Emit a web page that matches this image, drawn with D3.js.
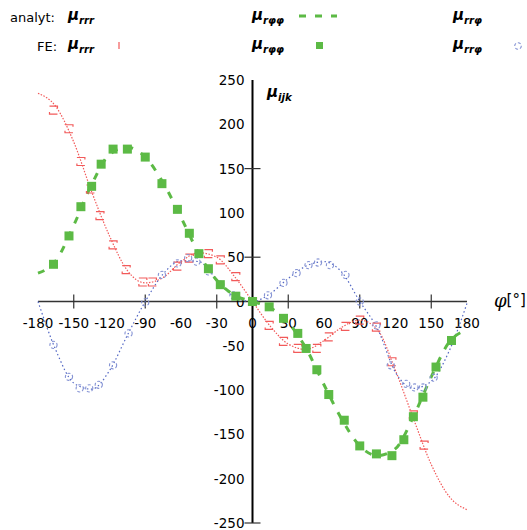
<!DOCTYPE html>
<html>
<head>
<meta charset="utf-8">
<script src="https://cdn.jsdelivr.net/npm/d3@7"></script>
<style>
  body { margin: 0; background: #fff; }
  svg text { font-family: "DejaVu Sans", sans-serif; }
</style>
</head>
<body>
<div id="chart"></div>
<script>
// angle ticks / labels
const xTickLabels = [-180, -150, -120, -90, -60, -30, 0, 30, 60, 90, 120, 150, 180];
const xTickMarks = [-150, -90, -30, 30, 90, 150];
const yTickLabels = [250, 200, 150, 100, 50, 0, -50, -100, -150, -200, -250];
const yTickMarks = [150, 50, -250];

// analytic curves [phi, value]
const anRrr = [[-180, 235], [-165, 220], [-150, 180], [-135, 124], [-120, 74], [-105, 35], [-90, 21], [-75, 27],
  [-60, 45], [-45, 55], [-30, 50], [-15, 28], [0, 0], [15, -28], [30, -48], [45, -54], [60, -44], [75, -29],
  [90, -21], [105, -32], [120, -78], [135, -132], [150, -184], [165, -220], [180, -235]];
const anRpp = [[-180, 32], [-165, 46], [-150, 86], [-135, 132], [-120, 166], [-105, 174], [-90, 163], [-75, 134],
  [-60, 95], [-45, 54], [-30, 24], [-15, 7], [0, 0], [15, -7], [30, -24], [45, -53], [60, -94], [75, -133],
  [90, -163], [105, -174], [120, -166], [135, -130], [150, -85], [165, -46], [180, -32]];
const anRrp = [[-180, 0], [-165, -55], [-150, -92], [-135, -99], [-120, -78], [-105, -38], [-90, 0], [-75, 31],
  [-60, 46], [-45, 45], [-30, 25], [-15, 5], [0, 0], [15, 9], [30, 26], [45, 40], [60, 45], [75, 33],
  [90, 0], [105, -31], [120, -80], [135, -98], [150, -90], [165, -56], [180, -2]];

// finite element results [phi, value]
const feRrr = [[-167, 216], [-154, 195], [-144, 158], [-136, 127], [-128, 97], [-117, 64], [-106, 36], [-92, 22],
  [-84, 22], [-63, 40], [-53, 49], [-37, 54], [-27, 47], [-14, 28], [0, 0], [14, -27], [26, -45], [38, -53],
  [54, -53], [64, -40], [78, -28], [90, -21], [104, -29], [117, -68], [135, -128], [144, -162]];
const feRpp = [[-167, 42], [-154, 74], [-144, 107], [-135, 130], [-127, 155], [-117, 172], [-105, 172], [-90, 163],
  [-76, 133], [-63, 104], [-53, 77], [-45, 54], [-37, 37], [-27, 19], [-14, 6], [0, 0], [14, -6], [26, -19],
  [38, -36], [45, -53], [54, -77], [64, -105], [77, -134], [90, -163], [104, -172], [117, -174], [127, -156],
  [135, -130], [143, -108], [154, -74], [167, -44]];
const feRrp = [[-167, -49], [-154, -85], [-145, -98], [-137, -98], [-129, -94], [-117, -72], [-104, -36], [-90, -1],
  [-76, 30], [-63, 43], [-54, 49], [-47, 45], [-37, 34], [-27, 19], [-16, 7], [0, 0], [13, 7], [26, 21],
  [37, 32], [47, 41], [55, 44], [65, 41], [78, 30], [90, 0], [104, -27], [116, -72], [129, -93], [136, -97],
  [143, -97], [152, -86]];

const red = '#f25a5a', green = '#5cba45', blue = '#5468c4', blueLight = '#8593d4';

const width = 527, height = 530;
const svg = d3.select('#chart').append('svg')
  .attr('width', width)
  .attr('height', height);

const x = d3.scaleLinear().domain([-180, 180]).range([38, 467]);
const y = d3.scaleLinear().domain([-250, 250]).range([523, 80]);

// axes
svg.append('line')
  .attr('x1', x(-180)).attr('x2', x(180))
  .attr('y1', y(0)).attr('y2', y(0))
  .attr('stroke', '#333').attr('stroke-width', 1.3);
svg.append('line')
  .attr('x1', x(0)).attr('x2', x(0))
  .attr('y1', y(250)).attr('y2', y(-250))
  .attr('stroke', '#000').attr('stroke-width', 2);

svg.selectAll('.xtick')
  .data(xTickMarks)
  .enter().append('line')
  .attr('x1', d => x(d)).attr('x2', d => x(d))
  .attr('y1', y(0) - 7).attr('y2', y(0) + 7)
  .attr('stroke', '#333').attr('stroke-width', 1.2);

svg.selectAll('.ytick')
  .data(yTickMarks)
  .enter().append('line')
  .attr('x1', x(0) - 8).attr('x2', x(0) + 8)
  .attr('y1', d => y(d)).attr('y2', d => y(d))
  .attr('stroke', '#333').attr('stroke-width', 1.2);

svg.selectAll('.xlab')
  .data(xTickLabels)
  .enter().append('text')
  .attr('x', d => x(d))
  .attr('y', y(0) + 26)
  .attr('text-anchor', 'middle')
  .attr('font-size', 13.5)
  .text(d => d < 0 ? '-' + Math.abs(d) : d);

svg.selectAll('.ylab')
  .data(yTickLabels)
  .enter().append('text')
  .attr('x', x(0) - 8)
  .attr('y', d => y(d) + 5)
  .attr('text-anchor', 'end')
  .attr('font-size', 13.5)
  .text(d => d < 0 ? '-' + Math.abs(d) : d);

// axis titles
function mu(g, xx, yy, sub, size) {
  const t = g.append('text')
    .attr('x', xx).attr('y', yy)
    .attr('font-family', '"DejaVu Serif", serif')
    .attr('font-style', 'italic')
    .attr('font-weight', 'bold')
    .attr('font-size', size);
  t.append('tspan').text('μ');
  t.append('tspan').attr('dy', 4).attr('font-size', size * 0.68).text(sub);
  return t;
}
mu(svg, 267, 97, 'ijk', 15);

const phiLab = svg.append('text').attr('x', 494).attr('y', 307).attr('font-size', 18);
phiLab.append('tspan').attr('font-family', '"DejaVu Serif", serif').attr('font-style', 'italic').text('φ');
phiLab.append('tspan').attr('font-size', 15).attr('dy', -2).text('[°]');

// analytic lines
const line = d3.line()
  .x(d => x(d[0]))
  .y(d => y(d[1]))
  .curve(d3.curveMonotoneX);

svg.append('path').datum(anRrr)
  .attr('fill', 'none').attr('stroke', red).attr('stroke-width', 1.2)
  .attr('stroke-dasharray', '1.5,1.5').attr('d', line);
svg.append('path').datum(anRrp)
  .attr('fill', 'none').attr('stroke', blue).attr('stroke-width', 1.2)
  .attr('stroke-dasharray', '1.5,2.5').attr('d', line);
svg.append('path').datum(anRpp)
  .attr('fill', 'none').attr('stroke', green).attr('stroke-width', 3)
  .attr('stroke-dasharray', '7,9').attr('d', line);

// FE markers
const sq = 8;
svg.selectAll('.fe-rrr')
  .data(feRrr)
  .enter().append('rect')
  .attr('x', d => x(d[0]) - sq / 2).attr('y', d => y(d[1]) - sq / 2)
  .attr('width', sq).attr('height', sq)
  .attr('fill', 'none').attr('stroke', red).attr('stroke-width', 1.2)
  .attr('stroke-dasharray', '10,6');

svg.selectAll('.fe-rrp')
  .data(feRrp)
  .enter().append('circle')
  .attr('cx', d => x(d[0])).attr('cy', d => y(d[1]))
  .attr('r', 3.6)
  .attr('fill', 'none').attr('stroke', blueLight).attr('stroke-width', 1.1)
  .attr('stroke-dasharray', '3,2');

svg.selectAll('.fe-rpp')
  .data(feRpp)
  .enter().append('rect')
  .attr('x', d => x(d[0]) - 4.5).attr('y', d => y(d[1]) - 4.5)
  .attr('width', 9).attr('height', 9)
  .attr('fill', green);

// legend
svg.append('text').attr('x', 10).attr('y', 22).attr('font-size', 13).text('analyt:');
svg.append('text').attr('x', 37).attr('y', 51).attr('font-size', 13).text('FE:');

const legendX = [68, 252, 453];
const legendSub = ['rrr', 'rφφ', 'rrφ'];
legendX.forEach((lx, i) => {
  mu(svg, lx, 20, legendSub[i], 15);
  mu(svg, lx, 49, legendSub[i], 15);
});

svg.append('line')
  .attr('x1', 299).attr('x2', 337).attr('y1', 16).attr('y2', 16)
  .attr('stroke', green).attr('stroke-width', 3).attr('stroke-dasharray', '7,9');
// only the left edge of the square shows, as in the original
svg.append('rect')
  .attr('x', 119).attr('y', 42).attr('width', 7).attr('height', 7)
  .attr('fill', 'none').attr('stroke', red).attr('stroke-width', 1.2)
  .attr('stroke-dasharray', '0,21,7');
svg.append('rect')
  .attr('x', 316).attr('y', 42).attr('width', 7).attr('height', 7)
  .attr('fill', green);
svg.append('circle')
  .attr('cx', 518).attr('cy', 46).attr('r', 3.3)
  .attr('fill', 'none').attr('stroke', blueLight).attr('stroke-width', 1.1)
  .attr('stroke-dasharray', '3,2');
</script>
</body>
</html>
